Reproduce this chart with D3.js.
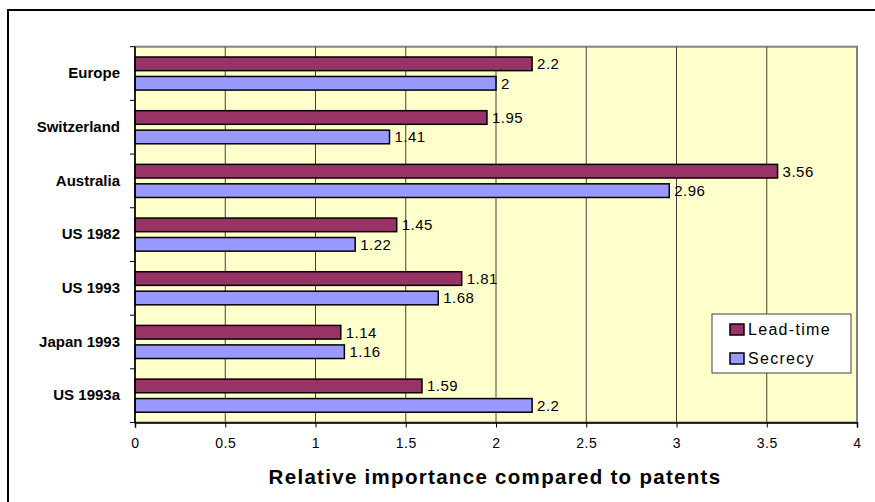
<!DOCTYPE html>
<html>
<head>
<meta charset="utf-8">
<script src="https://cdn.jsdelivr.net/npm/d3@7"></script>
<style>
body { margin: 0; background: #fff; }
text { font-family: Arial, "Liberation Sans", sans-serif; }
</style>
</head>
<body>
<script>
var w = 875;
var h = 502;

var categories = ["Europe", "Switzerland", "Australia", "US 1982", "US 1993", "Japan 1993", "US 1993a"];
var series = ["Lead-time", "Secrecy"];
var leadTime = [2.2, 1.95, 3.56, 1.45, 1.81, 1.14, 1.59];
var secrecy = [2, 1.41, 2.96, 1.22, 1.68, 1.16, 2.2];
var xTicks = [0, 0.5, 1, 1.5, 2, 2.5, 3, 3.5, 4];
var colors = ["#993366", "#9999FF"];

var plot = {left: 135, right: 857, top: 46.7, bottom: 422.5};

var svg = d3.select("body")
    .append("svg")
    .attr("width", w)
    .attr("height", h);

// outer chart frame (runs past the right and bottom edge)
svg.append("rect")
    .attr("x", 8)
    .attr("y", 10)
    .attr("width", 900)
    .attr("height", 520)
    .attr("fill", "#fff")
    .attr("stroke", "#000")
    .attr("stroke-width", 2);

var xScale = d3.scaleLinear()
    .domain([0, 4])
    .range([plot.left, plot.right]);

var yScale = d3.scaleBand()
    .domain(categories)
    .range([plot.top, plot.bottom]);

var step = yScale.bandwidth();
var sub = d3.scaleBand()
    .domain(series)
    .range([10.3, step - 10.3])
    .paddingInner(0.3);

// plot background
svg.append("rect")
    .attr("x", plot.left)
    .attr("y", plot.top)
    .attr("width", plot.right - plot.left)
    .attr("height", plot.bottom - plot.top)
    .attr("fill", "#FFFFCC")
    .attr("stroke", "#808080")
    .attr("stroke-width", 2);

// gridlines
svg.selectAll(".grid")
    .data(xTicks.slice(1, -1))
    .enter()
    .append("line")
    .attr("class", "grid")
    .attr("x1", function (d) { return xScale(d); })
    .attr("x2", function (d) { return xScale(d); })
    .attr("y1", plot.top)
    .attr("y2", plot.bottom)
    .attr("stroke", "#404040")
    .attr("stroke-width", 1);

var rows = categories.map(function (c, i) {
    return {cat: c, values: [leadTime[i], secrecy[i]]};
});

var groups = svg.selectAll(".row")
    .data(rows)
    .enter()
    .append("g")
    .attr("class", "row")
    .attr("transform", function (d) {
        return "translate(0," + yScale(d.cat) + ")";
    });

groups.selectAll("rect")
    .data(function (d) {
        return d.values.map(function (v, j) { return {key: series[j], value: v, j: j}; });
    })
    .enter()
    .append("rect")
    .attr("x", xScale(0))
    .attr("y", function (d) { return sub(d.key); })
    .attr("width", function (d) { return xScale(d.value) - xScale(0); })
    .attr("height", sub.bandwidth())
    .attr("fill", function (d) { return colors[d.j]; })
    .attr("stroke", "#000")
    .attr("stroke-width", 1.5);

groups.selectAll(".val")
    .data(function (d) {
        return d.values.map(function (v, j) { return {key: series[j], value: v}; });
    })
    .enter()
    .append("text")
    .attr("class", "val")
    .attr("x", function (d) { return xScale(d.value) + 5; })
    .attr("y", function (d) { return sub(d.key) + sub.bandwidth() / 2; })
    .attr("dy", "0.36em")
    .style("font-size", "15px")
    .style("letter-spacing", "0.5px")
    .attr("fill", "#000")
    .text(function (d) { return d.value; });

// x axis
var xAxis = d3.axisBottom(xScale)
    .tickValues(xTicks)
    .tickSize(5)
    .tickPadding(10.5)
    .tickFormat(function (d) { return d; });

var gx = svg.append("g")
    .attr("transform", "translate(0," + plot.bottom + ")")
    .call(xAxis);
gx.select(".domain").attr("stroke", "#000").attr("stroke-width", 1.5);
gx.selectAll(".tick line").attr("stroke", "#000");
gx.selectAll("text")
    .style("font-size", "14px")
    .style("letter-spacing", "0.5px")
    .style("font-family", "Arial, 'Liberation Sans', sans-serif")
    .attr("fill", "#000");

// y axis: labels at band centres, ticks on band edges
var yAxis = d3.axisLeft(yScale)
    .tickSize(0)
    .tickPadding(15);

var gy = svg.append("g")
    .attr("transform", "translate(" + plot.left + ",0)")
    .call(yAxis);
gy.select(".domain").remove();
gy.selectAll("text")
    .style("font-size", "15px")
    .style("font-weight", "bold")
    .style("font-family", "Arial, 'Liberation Sans', sans-serif")
    .attr("fill", "#000");

var edges = categories.map(function (c) { return yScale(c); }).concat([plot.bottom]);
svg.selectAll(".ytick")
    .data(edges)
    .enter()
    .append("line")
    .attr("class", "ytick")
    .attr("x1", plot.left - 5)
    .attr("x2", plot.left)
    .attr("y1", function (d) { return d; })
    .attr("y2", function (d) { return d; })
    .attr("stroke", "#000");

svg.append("line")
    .attr("x1", plot.left)
    .attr("x2", plot.left)
    .attr("y1", plot.top)
    .attr("y2", plot.bottom)
    .attr("stroke", "#000")
    .attr("stroke-width", 1.5);

// axis title
svg.append("text")
    .attr("x", 495)
    .attr("y", 484)
    .attr("text-anchor", "middle")
    .style("font-size", "20.5px")
    .style("font-weight", "bold")
    .style("letter-spacing", "1.3px")
    .text("Relative importance compared to patents");

// legend
var legend = svg.append("g")
    .attr("transform", "translate(712,314)");

legend.append("rect")
    .attr("width", 139)
    .attr("height", 59)
    .attr("fill", "#fff")
    .attr("stroke", "#404040")
    .attr("stroke-width", 1);

var items = legend.selectAll(".item")
    .data(series)
    .enter()
    .append("g")
    .attr("class", "item")
    .attr("transform", function (d, i) { return "translate(18," + (10 + i * 29) + ")"; });

items.append("rect")
    .attr("width", 14)
    .attr("height", 11)
    .attr("fill", function (d, i) { return colors[i]; })
    .attr("stroke", "#000")
    .attr("stroke-width", 1.5);

items.append("text")
    .attr("x", 18)
    .attr("y", 11)
    .style("font-size", "16px")
    .style("letter-spacing", "1.3px")
    .text(function (d) { return d; });
</script>
</body>
</html>
